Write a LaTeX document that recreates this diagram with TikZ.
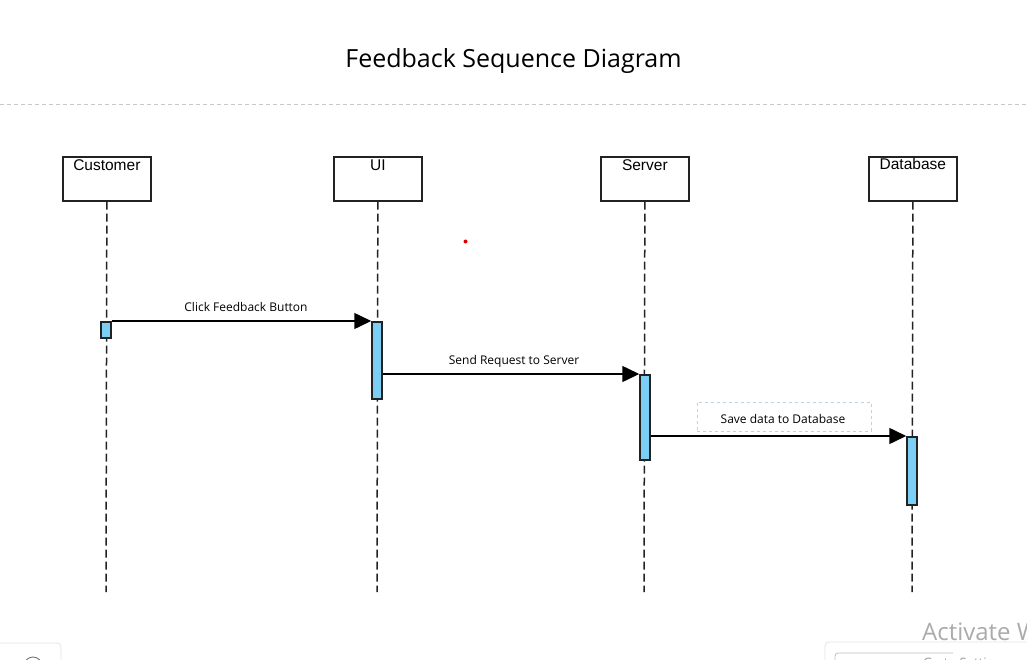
\documentclass[tikz,border=0pt]{standalone}
\usepackage{fontspec}
\setmainfont{Open Sans}
\newfontfamily\arialf{Liberation Sans}
\usetikzlibrary{arrows.meta}
\definecolor{barblue}{HTML}{7CCFF4}
\definecolor{linedark}{HTML}{222222}
\definecolor{sepgray}{HTML}{C8C8C8}
\definecolor{notebox}{HTML}{B9D3EE}
\tikzset{
  headbox/.style={draw=linedark, line width=1.7pt, minimum width=88pt, minimum height=44pt, inner sep=0pt, anchor=north west},
  headtext/.style={font=\arialf\fontsize{15.5}{18}\selectfont, anchor=north, inner sep=0pt, text=black},
  lifeline/.style={draw=linedark, line width=1.5pt, dash pattern=on 8pt off 4pt},
  actbar/.style={draw=linedark, fill=barblue, line width=1.5pt, minimum width=10pt, inner sep=0pt, anchor=north},
  msg/.style={draw=black, line width=1.5pt, -{Triangle[length=17pt,width=16pt]}},
  msglabel/.style={font=\fontsize{12}{14}\selectfont, inner sep=0pt, text=black},
}
\begin{document}
\begin{tikzpicture}[x=1pt,y=-1pt]
\useasboundingbox (0,0) rectangle (1027,660);
\fill[white] (0,0) rectangle (1027,660);
% title
\node[font=\fontsize{25}{29}\selectfont, text=black] (title) at (513.5,61) {Feedback Sequence Diagram};
\draw[sepgray, line width=1pt, dash pattern=on 4pt off 3pt] (0,105) coordinate (sepL) -- (1027,105) coordinate (sepR);
% heads
\node[headbox] (cbox) at (62,156) {};
\node[headbox] (ubox) at (333,156) {};
\node[headbox] (sbox) at (600,156) {};
\node[headbox] (dbox) at (868,156) {};
\node[headtext] (ct) at ([yshift=-3.5pt]cbox.north) {Customer};
\node[headtext] (ut) at ([yshift=-3.5pt]ubox.north) {UI};
\node[headtext] (st) at ([yshift=-3.5pt]sbox.north) {Server};
\node[headtext] (dt) at ([yshift=-2.5pt]dbox.north) {Database};
% lifelines
\coordinate (cend) at (106,592);
\coordinate (uend) at (377,592);
\coordinate (send) at (644,592);
\coordinate (dend) at (912,592);
\draw[lifeline] (cbox.south) -- (cend);
\draw[lifeline] (ubox.south) -- (uend);
\draw[lifeline] (sbox.south) -- (send);
\draw[lifeline] (dbox.south) -- (dend);
% activation bars
\node[actbar, minimum height=16pt] (cbar) at (106,321) {};
\node[actbar, minimum height=77pt] (ubar) at (377,321) {};
\node[actbar, minimum height=85pt] (sbar) at (645,374) {};
\node[actbar, minimum height=68pt] (dbar) at (912,436) {};
% messages
\draw[msg] (cbar.north east) -- (ubar.north west);
\node[msglabel] (m1) at (246,307) {Click Feedback Button};
\draw[msg] (ubar.east |- sbar.north) -- (sbar.north west);
\node[msglabel] (m2) at (514,361) {Send Request to Server};
\node[draw=notebox, dashed, line width=0.9pt, minimum width=174pt, minimum height=29pt, inner sep=0pt] (nb) at (784,416.5) {};
\node[msglabel] (m3) at (783,419) {Save data to Database};
\draw[msg] (sbar.east |- dbar.north) -- (dbar.north west);
% stray red dot
\fill[red!85!black] (465.5,241.5) circle (2pt);
% screen artefacts at bottom
\begin{scope}
\clip (0,0) rectangle (1027,660);
\draw[black!10, line width=0.8pt, rounded corners=4pt] (-10,643) -- (61,643) -- (61,680);
\draw[black!60, line width=0.8pt] (33,666) circle (9pt);
\draw[black!10, line width=0.8pt, rounded corners=4pt] (825,680) -- (825,642) -- (1040,642);
\draw[black!25, line width=0.8pt, rounded corners=3pt] (835,680) -- (835,653) -- (953,653);
\node[font=\fontsize{24}{28}\selectfont, text=black!33, anchor=west, inner sep=0pt] (aw) at (922,631) {Activate Windows};
\node[font=\fontsize{13}{15}\selectfont, text=black!40, anchor=west, inner sep=0pt] (gs) at (923,664) {Go to Settings};
\end{scope}
\end{tikzpicture}
\end{document}
